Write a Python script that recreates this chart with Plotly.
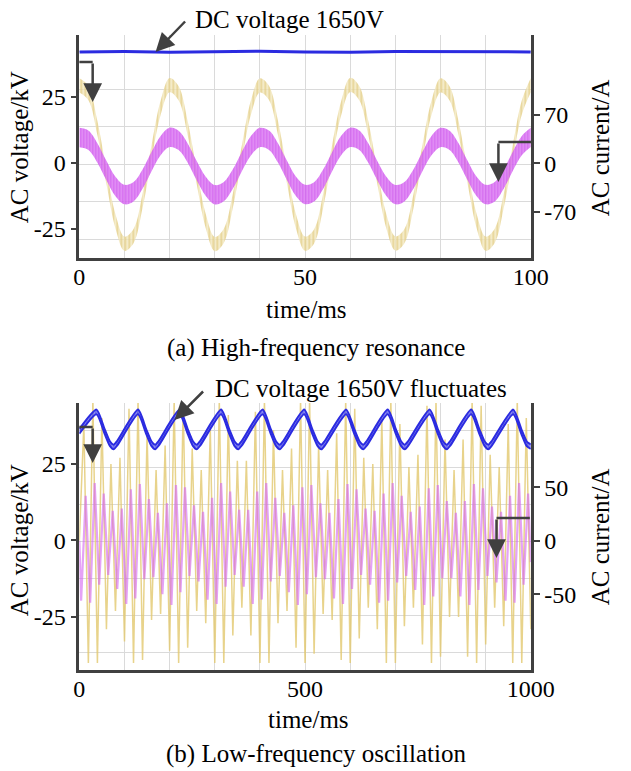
import plotly.graph_objects as go

W, H = 631, 771
FONT = "Liberation Serif, Times New Roman, serif"
AXC = "#404040"
GRID = "#dadada"

# ---------------- (a) High-frequency resonance ----------------
t_a = [2 * i for i in range(51)]  # time, ms (2 ms sampling)
ac_v_a = [29.4, 26.5, 13.2, -5.3, -22.1, -30.6, -27.7, -14.4, 4.1, 20.9,
          29.5, 26.4, 13.1, -5.4, -22.0, -30.7, -27.6, -14.3, 4.0, 21.0,
          29.4, 26.6, 13.3, -5.2, -22.2, -30.6, -27.8, -14.4, 4.2, 20.8,
          29.6, 26.5, 13.2, -5.3, -22.1, -30.5, -27.7, -14.5, 4.1, 20.9,
          29.4, 26.4, 13.1, -5.3, -22.0, -30.6, -27.6, -14.4, 4.0, 21.0,
          29.5]                       # kV
ac_i_a = [37.0, 33.0, 14.7, -10.7, -33.7, -45.4, -41.4, -23.1, 2.3, 25.3,
          37.2, 32.8, 14.5, -10.9, -33.5, -45.6, -41.2, -23.0, 2.4, 25.1,
          36.9, 33.1, 14.8, -10.6, -33.8, -45.3, -41.5, -23.2, 2.2, 25.4,
          37.1, 33.0, 14.6, -10.8, -33.6, -45.5, -41.3, -23.1, 2.3, 25.2,
          37.0, 32.9, 14.7, -10.7, -33.7, -45.4, -41.4, -23.0, 2.5, 25.3,
          37.1]                       # A
v_ripple_a = 2.7   # kV, half width of high-frequency ripple band
i_ripple_a = 14.0  # A
t_dc_a = [0, 10, 20, 30, 40, 50, 60, 70, 80, 90, 100]
dc_a = [1650, 1651, 1649, 1650, 1652, 1650, 1649, 1651, 1650, 1650, 1650]  # V

# ---------------- (b) Low-frequency oscillation ----------------
v_peak_t_b = [10 + 20 * k for k in range(50)]
v_peak_b = [38, 46, 40, 25, 27, 43, 46, 35, 23, 31, 46, 45, 30, 23, 37, 46, 41, 26, 26, 42,
            46, 36, 23, 30, 46, 46, 31, 23, 35, 46, 43, 27, 25, 40, 46, 38, 24, 28, 44, 46,
            33, 23, 33, 46, 44, 28, 24, 38, 46, 40]
v_trough_t_b = [20 + 20 * k for k in range(50)]
v_trough_b = [-40, -40, -29, -23, -33, -40, -39, -26, -24, -36, -40, -35, -23, -27, -40, -40, -31, -22, -31, -40,
              -40, -27, -23, -35, -40, -37, -24, -26, -39, -40, -32, -22, -29, -40, -40, -28, -22, -34, -40, -38,
              -25, -25, -38, -40, -34, -22, -28, -40, -40, -29]
i_peak_t_b = [14 + 20 * k for k in range(50)]
i_peak_b = [42, 54, 44, 28, 30, 48, 53, 39, 26, 35, 52, 50, 33, 27, 40, 54, 46, 29, 29, 46,
            54, 40, 26, 33, 50, 52, 35, 26, 39, 53, 48, 30, 28, 44, 54, 42, 27, 32, 49, 52,
            37, 26, 37, 53, 49, 32, 27, 42, 54, 44]
i_trough_t_b = [4 + 20 * k for k in range(50)]
i_trough_b = [-56, -58, -41, -32, -45, -59, -54, -36, -34, -50, -60, -48, -33, -38, -55, -59, -43, -32, -43, -59,
              -55, -38, -33, -48, -60, -50, -34, -36, -54, -59, -45, -32, -41, -58, -56, -39, -33, -46, -60, -52,
              -35, -35, -52, -60, -46, -33, -39, -56, -58, -41]
t_dc_b = [0, 38, 56, 68, 76, 84, 130, 148, 160, 168, 176, 222, 240, 252, 260, 268,
          314, 332, 344, 352, 360, 406, 424, 436, 444, 452, 498, 516, 528, 536, 544,
          591, 609, 621, 629, 637, 683, 701, 713, 721, 729, 776, 794, 806, 814, 822,
          868, 886, 898, 906, 914, 961, 979, 991, 1000]
dc_b = [1650, 1700, 1650, 1618, 1610, 1620, 1700, 1650, 1618, 1610, 1620, 1700, 1650, 1618, 1610, 1620,
        1700, 1650, 1618, 1610, 1620, 1700, 1650, 1618, 1610, 1620, 1700, 1650, 1618, 1610, 1620,
        1700, 1650, 1618, 1610, 1620, 1700, 1650, 1618, 1610, 1620, 1700, 1650, 1618, 1610, 1620,
        1700, 1650, 1618, 1610, 1620, 1700, 1650, 1618, 1611]
dc_ripple_b = 6.0  # V, half width of ripple band on DC voltage


def zigzag(t0, v0, t1, v1):
    pts = sorted(list(zip(t0, v0)) + list(zip(t1, v1)))
    return [0] + [p[0] for p in pts], [0] + [p[1] for p in pts]


tv_b, vv_b = zigzag(v_peak_t_b, v_peak_b, v_trough_t_b, v_trough_b)
ti_b, iv_b = zigzag(i_peak_t_b, i_peak_b, i_trough_t_b, i_trough_b)
ti_b.append(1000)
iv_b.append(-20)

YEL = "#DBBD62"
YEL_BG = "rgba(240,228,182,0.75)"
MAG = "#C233E8"
MAG_BG = "rgba(222,128,245,0.75)"
BLUE = "#2B2BE0"

fig = go.Figure()

# --- panel (a) bands ---
fig.add_trace(go.Scatter(x=t_a, y=[v - v_ripple_a for v in ac_v_a], xaxis="x", yaxis="y",
                         mode="lines", line=dict(width=0, shape="spline", color=YEL), showlegend=False))
fig.add_trace(go.Scatter(x=t_a, y=[v + v_ripple_a for v in ac_v_a], xaxis="x", yaxis="y",
                         mode="lines", line=dict(width=0, shape="spline", color=YEL), fill="tonexty",
                         fillcolor=YEL_BG,
                         fillpattern=dict(shape="|", fgcolor=YEL, bgcolor=YEL_BG, size=4, solidity=0.4),
                         showlegend=False))
fig.add_trace(go.Scatter(x=t_a, y=[v - i_ripple_a for v in ac_i_a], xaxis="x", yaxis="y2",
                         mode="lines", line=dict(width=0, shape="spline", color=MAG), showlegend=False))
fig.add_trace(go.Scatter(x=t_a, y=[v + i_ripple_a for v in ac_i_a], xaxis="x", yaxis="y2",
                         mode="lines", line=dict(width=0, shape="spline", color=MAG), fill="tonexty",
                         fillcolor=MAG_BG,
                         fillpattern=dict(shape="|", fgcolor=MAG, bgcolor=MAG_BG, size=3, solidity=0.6),
                         showlegend=False))
fig.add_trace(go.Scatter(x=t_dc_a, y=dc_a, xaxis="x", yaxis="y3", mode="lines",
                         line=dict(width=3, color=BLUE), showlegend=False))

# --- panel (b) ---
fig.add_trace(go.Scatter(x=tv_b, y=vv_b, xaxis="x2", yaxis="y4", mode="lines",
                         line=dict(width=1.5, color="rgba(226,200,110,0.8)"), showlegend=False))
fig.add_trace(go.Scatter(x=ti_b, y=iv_b, xaxis="x2", yaxis="y5", mode="lines",
                         line=dict(width=2.2, color="rgba(212,100,240,0.6)"), showlegend=False))
fig.add_trace(go.Scatter(x=t_dc_b, y=[v - dc_ripple_b for v in dc_b], xaxis="x2", yaxis="y6", mode="lines",
                         line=dict(width=2, color=BLUE, shape="spline", smoothing=0.6), showlegend=False))
fig.add_trace(go.Scatter(x=t_dc_b, y=[v + dc_ripple_b for v in dc_b], xaxis="x2", yaxis="y6", mode="lines",
                         line=dict(width=2, color=BLUE, shape="spline", smoothing=0.6), fill="tonexty",
                         fillcolor="rgba(70,70,235,0.85)",
                         fillpattern=dict(shape="|", fgcolor=BLUE, bgcolor="rgba(120,120,240,0.8)",
                                          size=3, solidity=0.5),
                         showlegend=False))

XD = [77 / W, 551 / W]
YDA = [1 - 258 / H, 1 - 35 / H]
YDB = [1 - 670 / H, 1 - 403 / H]
tickfont = dict(family=FONT, size=24, color="black")

common_x = dict(showline=True, linecolor=AXC, linewidth=2.5, ticks="outside", ticklen=1, tickwidth=0.1,
                tickcolor="rgba(0,0,0,0)", showgrid=True,
                gridcolor=GRID, gridwidth=1, zeroline=False, tickfont=tickfont, ticklabelstandoff=-6)
common_y = dict(showline=True, linecolor=AXC, linewidth=2.5, ticks="outside", ticklen=6,
                tickwidth=2, tickcolor=AXC, showgrid=False, zeroline=False, tickfont=tickfont)
hidden_y = dict(showline=False, ticks="", showticklabels=False, showgrid=True, gridcolor=GRID,
                gridwidth=1, zeroline=False, tickmode="linear")

fig.update_layout(
    width=W, height=H, margin=dict(l=0, r=0, t=0, b=0), autosize=False,
    paper_bgcolor="white", plot_bgcolor="white",
    font=dict(family=FONT, color="black"),
    xaxis=dict(domain=XD, anchor="y", range=[0, 100],
               tickvals=[10 * i for i in range(11)],
               ticktext=["0", "", "", "", "", "50", "", "", "", "", "100"], **common_x),
    yaxis=dict(domain=YDA, anchor="x", range=[-36, 48.5], tickvals=[-25, 0, 25],
               ticktext=["-25", "0", "25"], **common_y),
    yaxis2=dict(overlaying="y", anchor="x", side="right", range=[-137, 185],
                tickvals=[-70, 0, 70], ticktext=["-70", "0", "70"], **common_y),
    yaxis3=dict(overlaying="y", anchor="x", range=[1003, 1703], tick0=1062.5, dtick=117.6, **hidden_y),
    xaxis2=dict(domain=XD, anchor="y4", range=[0, 1000],
                tickvals=[100 * i for i in range(11)],
                ticktext=["0", "", "", "", "", "500", "", "", "", "", "1000"], **common_x),
    yaxis4=dict(domain=YDB, anchor="x2", range=[-42.3, 44.9], tickvals=[-25, 0, 25],
                ticktext=["-25", "0", "25"], **common_y),
    yaxis5=dict(overlaying="y4", anchor="x2", side="right", range=[-120.8, 128.7],
                tickvals=[-50, 0, 50], ticktext=["-50", "0", "50"], **common_y),
    yaxis6=dict(overlaying="y4", anchor="x2", range=[1037, 1723], tick0=1080.9, dtick=95.35, **hidden_y),
)


def P(x, y):
    return x / W, 1 - y / H


ann = []


def text(s, x, y, size=25, angle=0, xanchor="center"):
    px, py = P(x, y)
    ann.append(dict(text=s, x=px, y=py, xref="paper", yref="paper", showarrow=False,
                    textangle=angle, xanchor=xanchor, yanchor="middle",
                    font=dict(family=FONT, size=size, color="black")))


def arrow(xt, yt, xs, ys, size=1.5):
    px, py = P(xt, yt)
    ann.append(dict(text="", x=px, y=py, xref="paper", yref="paper", ax=xs - xt, ay=ys - yt,
                    showarrow=True, arrowhead=2, arrowsize=size, arrowwidth=2.5,
                    arrowcolor=AXC, standoff=0))


shapes = []


def hline(x0, x1, y):
    a, b = P(x0, y)
    c, _ = P(x1, y)
    shapes.append(dict(type="line", xref="paper", yref="paper", x0=a, x1=c, y0=b, y1=b,
                       line=dict(color=AXC, width=2.5)))


# panel (a) texts
text("DC voltage 1650V", 196, 19, xanchor="left")
arrow(157, 52, 188, 20)
text("AC voltage/kV", 14, 147, angle=-90)
text("AC current/A", 624, 148, angle=-90)
text("time/ms", 316, 309)
text("(a) High-frequency resonance", 325, 348)
hline(77, 91, 62)
arrow(91, 102, 91, 62)
hline(552, 517, 142)
arrow(517, 182, 517, 142)

# panel (b) texts
text("DC voltage 1650V fluctuates", 217, 388, xanchor="left")
arrow(177, 420, 207, 390)
text("AC voltage/kV", 14, 540, angle=-90)
text("AC current/A", 624, 537, angle=-90)
text("time/ms", 318, 719)
text("(b) Low-frequency oscillation", 325, 754)
hline(77, 91, 427)
arrow(91, 463, 91, 427)
hline(550, 515, 518)
arrow(515, 558, 515, 518)

fig.update_layout(annotations=ann, shapes=shapes)
fig.write_html("out.html")
